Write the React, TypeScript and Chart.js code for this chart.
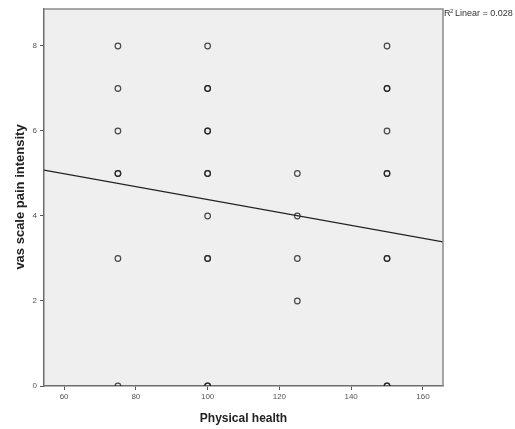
import React, { useEffect, useRef } from "react";
import { Chart, registerables } from "chart.js";

Chart.register(...registerables);

// Observed cases (duplicates = overlapping cases drawn darker)
const physicalHealth = [
  75, 75, 75, 75, 75, 75, 75,
  100, 100, 100, 100, 100, 100, 100, 100, 100, 100, 100, 100,
  125, 125, 125, 125,
  150, 150, 150, 150, 150, 150, 150, 150, 150, 150,
];
const painIntensity = [
  8, 7, 6, 5, 5, 3, 0,
  8, 7, 7, 6, 6, 5, 5, 4, 3, 3, 0, 0,
  5, 4, 3, 2,
  8, 7, 7, 6, 5, 5, 3, 3, 0, 0,
];

// Fit line end points
const fitX = [54.4, 165.6];
const fitY = [5.08, 3.39];

const xTicks = [60, 80, 100, 120, 140, 160];
const yTicks = [0, 2, 4, 6, 8];
const xRange = [54.4, 165.6];
const yRange = [0, 8.87];

const xTitle = "Physical health";
const yTitle = "vas scale pain intensity";
const fitLabel = "Linear = 0.028";

export default function App() {
  const ref = useRef<HTMLCanvasElement | null>(null);

  useEffect(() => {
    if (!ref.current) return;
    const textPlugin = {
      id: "spssDecor",
      beforeDraw(chart: any) {
        const { ctx, chartArea: a } = chart;
        ctx.save();
        ctx.fillStyle = "#efefef";
        ctx.fillRect(a.left, a.top, a.right - a.left, a.bottom - a.top);
        ctx.restore();
      },
      afterDraw(chart: any) {
        const { ctx, chartArea: a } = chart;
        ctx.save();
        ctx.strokeStyle = "#8a8a8a";
        ctx.lineWidth = 1.5;
        ctx.beginPath();
        ctx.moveTo(a.left, a.top);
        ctx.lineTo(a.right, a.top);
        ctx.lineTo(a.right, a.bottom);
        ctx.stroke();
        // titles
        ctx.fillStyle = "#222";
        ctx.font = "bold 12px 'Liberation Sans', Arial, sans-serif";
        ctx.textAlign = "center";
        ctx.textBaseline = "middle";
        ctx.fillText(xTitle, (a.left + a.right) / 2, 419);
        ctx.save();
        ctx.translate(20, 197);
        ctx.rotate(-Math.PI / 2);
        ctx.font = "bold 13px 'Liberation Sans', Arial, sans-serif";
        ctx.fillText(yTitle, 0, 0);
        ctx.restore();
        // R2 label
        ctx.textAlign = "left";
        ctx.fillStyle = "#333";
        ctx.font = "9px 'Liberation Sans', Arial, sans-serif";
        ctx.fillText("R", a.right + 1, 14);
        ctx.font = "6px 'Liberation Sans', Arial, sans-serif";
        ctx.fillText("2", a.right + 7, 11);
        ctx.font = "9px 'Liberation Sans', Arial, sans-serif";
        ctx.fillText(fitLabel, a.right + 12, 14);
        ctx.restore();
      },
    };

    const chart = new Chart(ref.current, {
      type: "scatter",
      data: {
        datasets: [
          {
            type: "scatter",
            data: physicalHealth.map((x, i) => ({ x, y: painIntensity[i] })),
            pointRadius: 2.8,
            pointBorderWidth: 1.2,
            borderColor: "rgba(30,30,30,0.8)",
            backgroundColor: "rgba(0,0,0,0)",
            clip: 0,
            order: 1,
          } as any,
          {
            type: "line",
            data: fitX.map((x, i) => ({ x, y: fitY[i] })),
            borderColor: "#222",
            borderWidth: 1.2,
            pointRadius: 0,
            fill: false,
            order: 0,
          } as any,
        ],
      },
      options: {
        animation: false,
        responsive: false,
        maintainAspectRatio: false,
        layout: { padding: { top: 9, right: 72, left: 0, bottom: 0 } },
        plugins: { legend: { display: false }, tooltip: { enabled: false } },
        scales: {
          x: {
            type: "linear",
            min: xRange[0],
            max: xRange[1],
            afterBuildTicks: (s: any) => {
              s.ticks = xTicks.map((v) => ({ value: v }));
            },
            afterFit: (s: any) => {
              s.height = 43;
            },
            grid: {
              display: true,
              drawOnChartArea: false,
              drawTicks: true,
              tickLength: 4,
              color: "#555",
            },
            border: { display: true, color: "#6e6e6e", width: 1.5 },
            ticks: {
              color: "#555",
              padding: 2,
              font: { size: 8, family: "'Liberation Sans', Arial, sans-serif" },
              callback: (v: any) => String(v),
            },
          },
          y: {
            type: "linear",
            min: yRange[0],
            max: yRange[1],
            afterBuildTicks: (s: any) => {
              s.ticks = yTicks.map((v) => ({ value: v }));
            },
            afterFit: (s: any) => {
              s.width = 44;
            },
            grid: {
              display: true,
              drawOnChartArea: false,
              drawTicks: true,
              tickLength: 4,
              color: "#555",
            },
            border: { display: true, color: "#6e6e6e", width: 1.5 },
            ticks: {
              color: "#555",
              padding: 3,
              font: { size: 8, family: "'Liberation Sans', Arial, sans-serif" },
              callback: (v: any) => String(v),
            },
          },
        },
      },
      plugins: [textPlugin],
    } as any);
    return () => chart.destroy();
  }, []);

  return (
    <div style={{ position: "fixed", left: 0, top: 0, width: 515, height: 429, background: "#fff" }}>
      <canvas ref={ref} width={515} height={429} style={{ width: 515, height: 429 }} />
    </div>
  );
}
